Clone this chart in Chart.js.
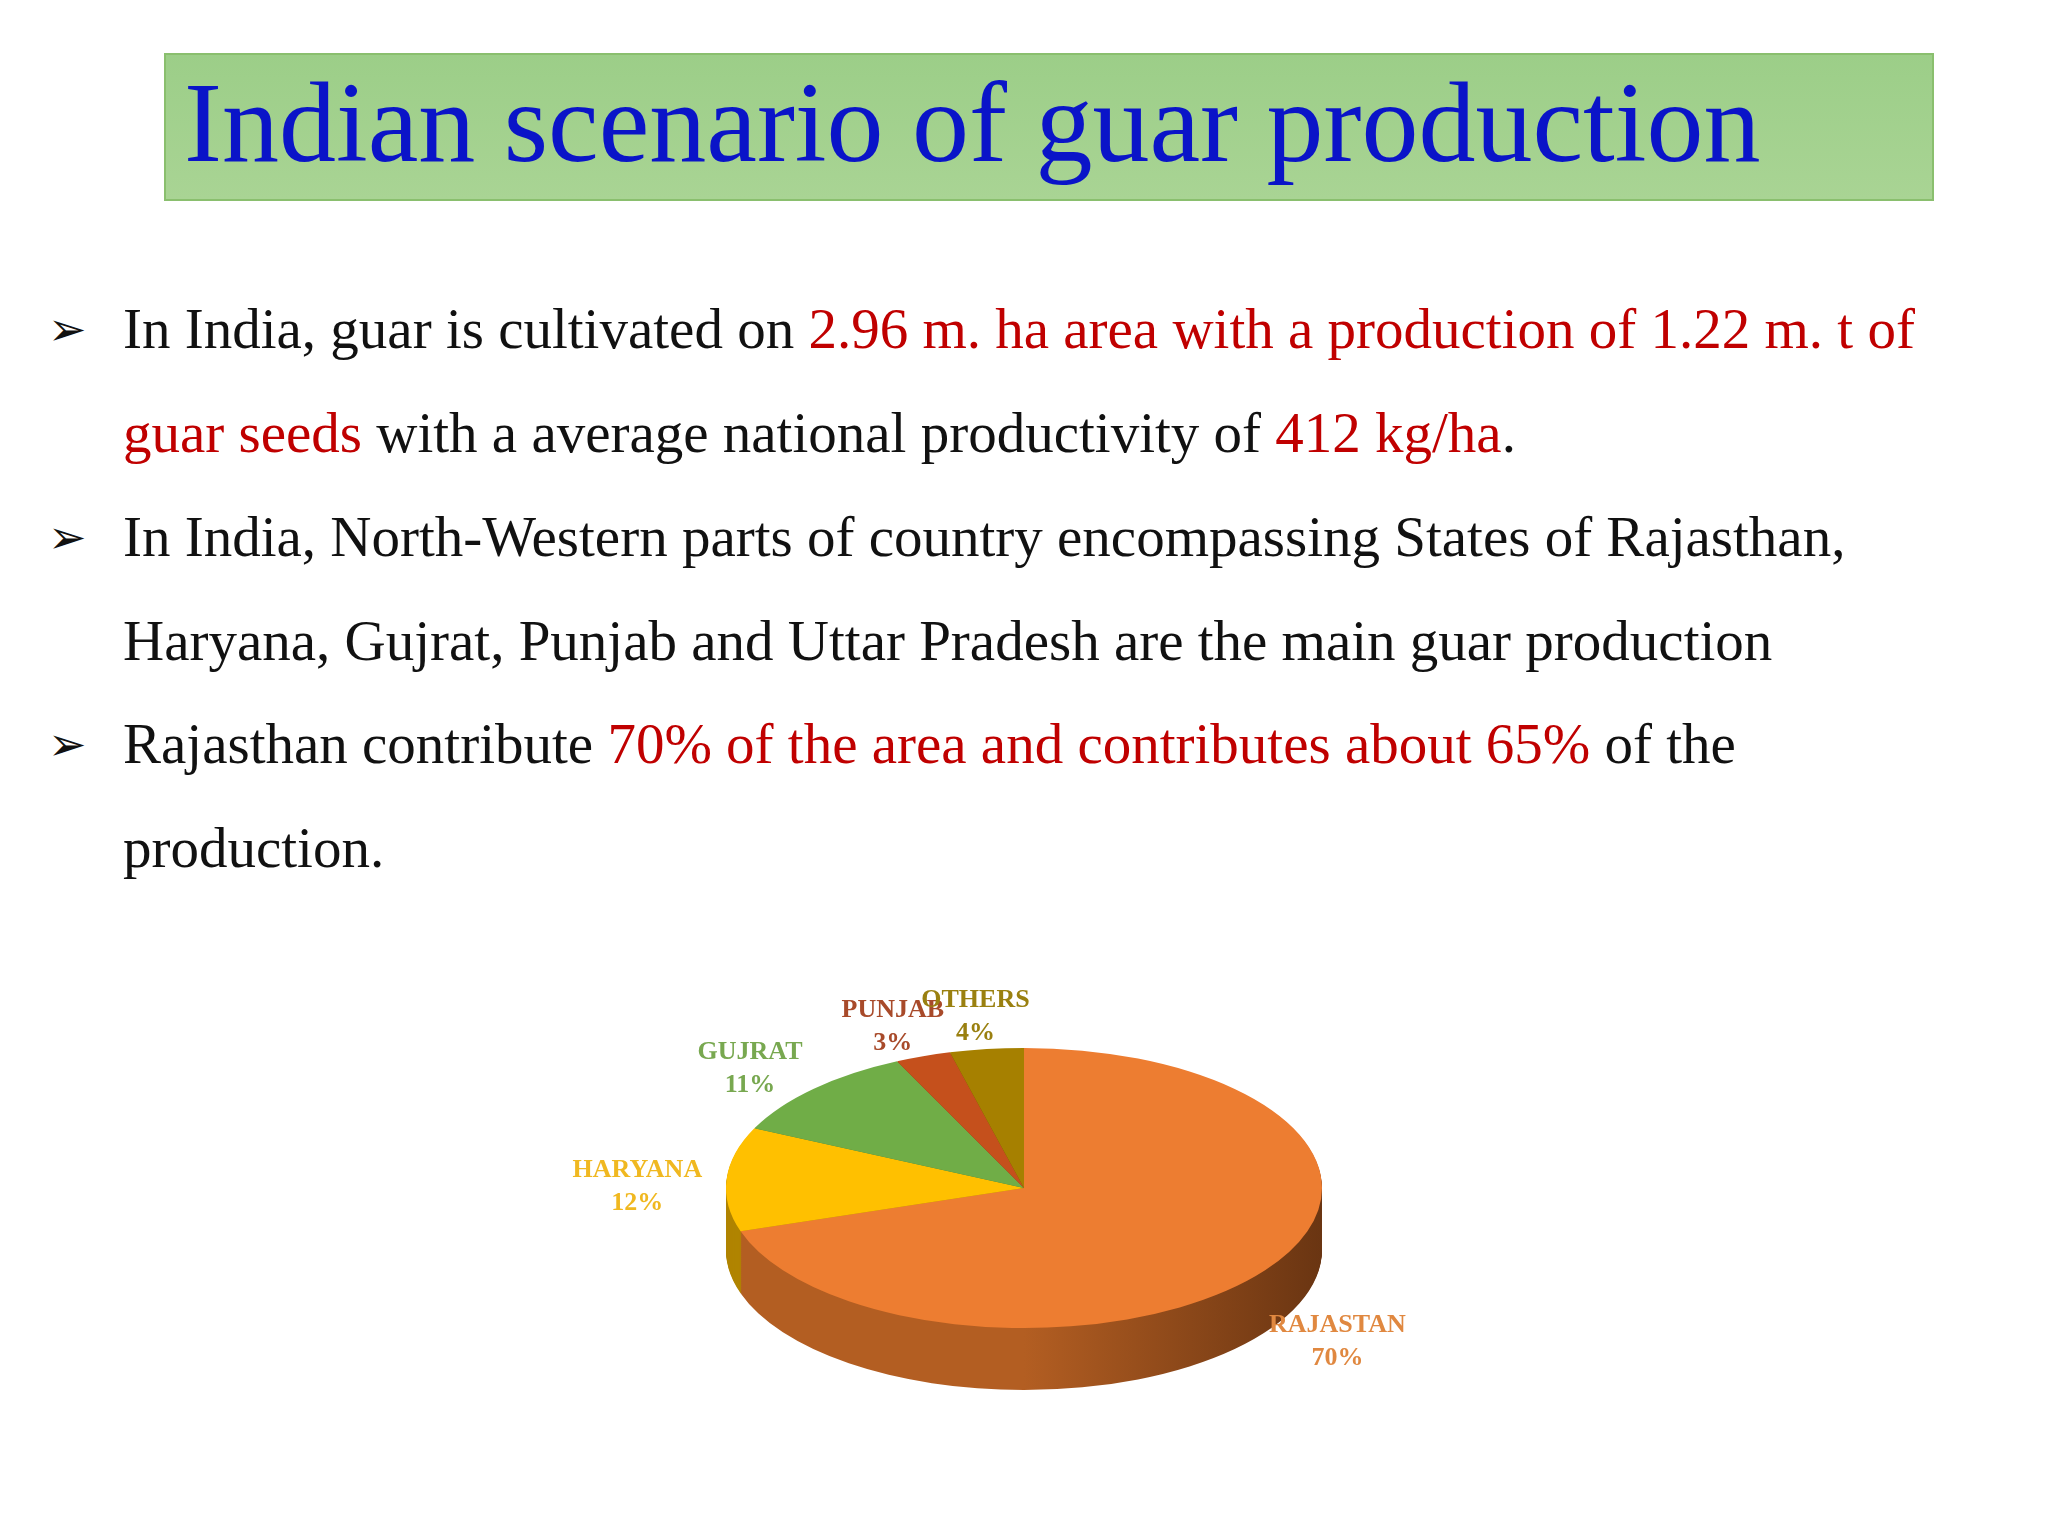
<!DOCTYPE html>
<html><head><meta charset="utf-8">
<script src="https://cdn.jsdelivr.net/npm/chart.js@4"></script>
<style>
body{margin:0;width:2048px;height:1536px;background:#fff;position:relative;overflow:hidden;font-family:"Liberation Serif","Times New Roman",serif}
#title{position:absolute;left:164px;top:53px;width:1770px;height:148px;background:linear-gradient(#9cce88,#a9d494);border:2px solid #8abf6e;box-sizing:border-box}
#title span{position:absolute;left:18px;top:2px;font-size:114px;color:#0a14c8;white-space:nowrap}
.b{position:absolute;left:123px;font-size:57px;color:#111;white-space:nowrap}
.a{position:absolute;left:48px;font-size:46px;color:#111}
.r{color:#c00000}
#wrap{position:absolute;left:424px;top:888px;width:1200px;height:600px}
</style></head><body>
<div id="title"><span>Indian scenario of guar production</span></div>
<div class="a" style="top:302px">➢</div>
<div class="b" style="top:296px">In India, guar is cultivated on <span class="r">2.96 m. ha area with a production of 1.22 m. t of</span></div>
<div class="b" style="top:400px"><span class="r">guar seeds</span> with a average national productivity of <span class="r">412 kg/ha</span>.</div>
<div class="a" style="top:510px">➢</div>
<div class="b" style="top:504px">In India, North-Western parts of country encompassing States of Rajasthan,</div>
<div class="b" style="top:608px">Haryana, Gujrat, Punjab and Uttar Pradesh are the main guar production</div>
<div class="a" style="top:717px">➢</div>
<div class="b" style="top:711px">Rajasthan contribute <span class="r">70% of the area and contributes about 65%</span> of the</div>
<div class="b" style="top:815px">production.</div>
<div id="wrap"><canvas id="c"></canvas></div>
<script>
const categories=["RAJASTAN","HARYANA","GUJRAT","PUNJAB","OTHERS"];
const values=[70,12,11,3,4];
const colors=["#ed7d31","#ffc000","#70ad47","#c5501c","#a68000"];
const sideColors=["#b35e22","#b08400","#4c7a30","#86350f","#6f5600"];
const labelColors=["#e08840","#f0b820","#78a850","#a84a2a","#9a8010"];
const SY=0.47, DEPTH=62;
const pie3d={id:'pie3d',
 beforeDatasetsDraw(ch){const ctx=ch.ctx,m=ch.getDatasetMeta(0);const a0=m.data[0];const cx=a0.x,cy=a0.y;
  ctx.save();
  for(let d=DEPTH;d>0;d--){m.data.forEach((a,i)=>{ctx.save();ctx.translate(cx,cy+d);ctx.scale(1,SY);
   const g=ctx.createLinearGradient(-a.outerRadius,0,a.outerRadius,0);
   g.addColorStop(0,sideColors[i]);g.addColorStop(0.5,sideColors[i]);g.addColorStop(1,'#6a3512');
   ctx.beginPath();ctx.moveTo(0,0);ctx.arc(0,0,a.outerRadius,a.startAngle,a.endAngle);ctx.closePath();
   ctx.fillStyle=i===0?g:sideColors[i];ctx.fill();ctx.restore();});}
  ctx.restore();
  ctx.save();ctx.translate(cx,cy);ctx.scale(1,SY);ctx.translate(-cx,-cy);},
 afterDatasetsDraw(ch){const ctx=ch.ctx;ctx.restore();const m=ch.getDatasetMeta(0);
  ctx.save();ctx.font='bold 26px "Liberation Serif",serif';ctx.textAlign='center';
  m.data.forEach((a,i)=>{const mid=(a.startAngle+a.endAngle)/2;const k=1.3;
   const x=a.x+a.outerRadius*k*Math.cos(mid);let y=a.y+a.outerRadius*SY*k*Math.sin(mid);
   if(Math.sin(mid)>0)y+=DEPTH*0.6;
   ctx.fillStyle=labelColors[i];ctx.fillText(categories[i],x,y);ctx.fillText(values[i]+'%',x,y+33);});
  ctx.restore();}};
new Chart(document.getElementById('c'),{type:'pie',
 data:{labels:categories,datasets:[{data:values,backgroundColor:colors,borderWidth:0}]},
 options:{responsive:true,maintainAspectRatio:false,animation:false,layout:{padding:2},
  plugins:{legend:{display:false},tooltip:{enabled:false}}},plugins:[pie3d]});
</script></body></html>
